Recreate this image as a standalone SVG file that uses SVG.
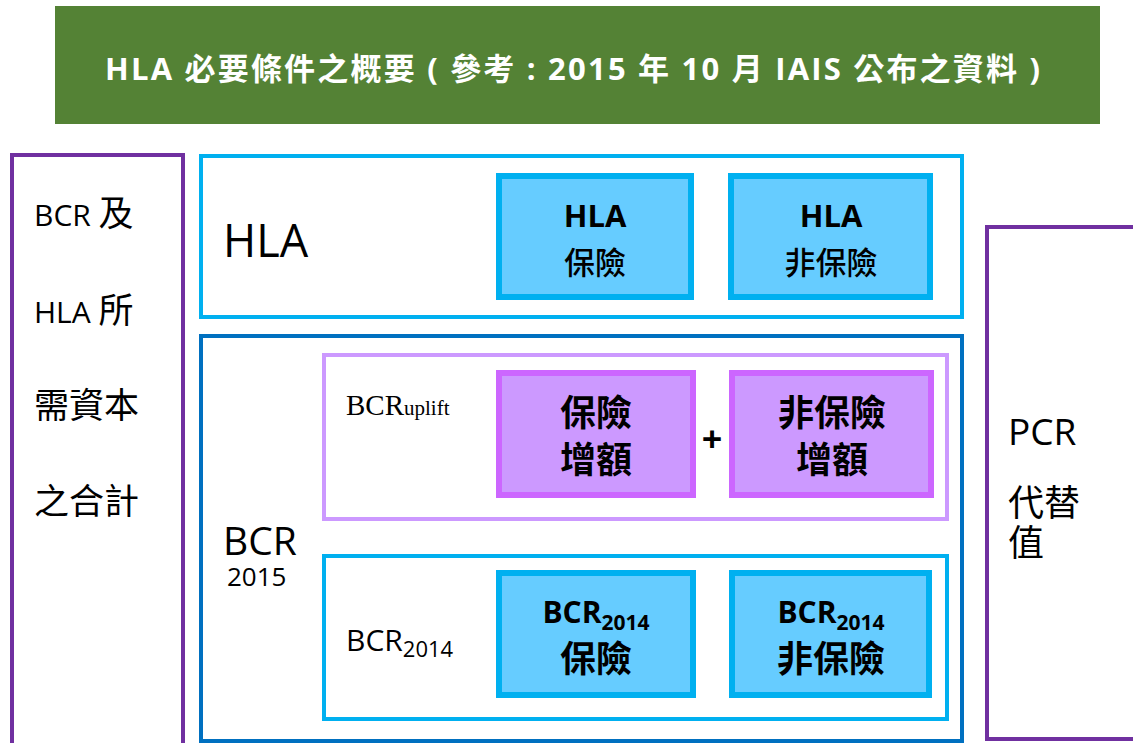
<svg xmlns="http://www.w3.org/2000/svg" width="1133" height="743" viewBox="0 0 1133 743">
<style>
.t{font-family:"Open Sans","Noto Sans CJK TC",sans-serif;fill:#000}
.b{font-weight:bold}
.c{font-family:"Noto Sans CJK TC",sans-serif}
.frame{fill:#fff;stroke-width:4}
.blue{fill:#66CCFF;stroke:#00B0F0;stroke-width:6}
.purp{fill:#CC99FF;stroke:#CC66FF;stroke-width:6}
</style>
<rect x="0" y="0" width="1133" height="743" fill="#fff"/>
<g id="title">
<rect x="55" y="6" width="1045" height="118" fill="#548235"/>
<text class="t b" x="105" y="80" font-size="31" style="fill:#fff" textLength="935" lengthAdjust="spacing">HLA 必要條件之概要 ( 參考 : 2015 年 10 月 IAIS 公布之資料 )</text>
</g>
<g id="left">
<rect class="frame" x="12" y="155" width="171" height="600" stroke="#7030A0"/>
<text class="t" x="34" y="226" font-size="30">BCR <tspan class="c" font-size="35">及</tspan></text>
<text class="t" x="34" y="323" font-size="30">HLA <tspan class="c" font-size="35">所</tspan></text>
<text class="t c" x="34" y="418" font-size="35">需資本</text>
<text class="t c" x="34" y="514" font-size="35">之合計</text>
</g>
<g id="hla">
<rect class="frame" x="201" y="156" width="761" height="161" stroke="#00B0F0"/>
<text class="t" x="223" y="257" font-size="45">HLA</text>
</g>
<g id="hla-ins">
<rect class="blue" x="499" y="176" width="192" height="121"/>
<text class="t b" x="595" y="227" font-size="31" text-anchor="middle">HLA</text>
<text class="t c" x="595" y="274" font-size="31" text-anchor="middle" font-weight="500">保險</text>
</g>
<g id="hla-non">
<rect class="blue" x="731" y="176" width="199" height="121"/>
<text class="t b" x="831" y="227" font-size="31" text-anchor="middle">HLA</text>
<text class="t c" x="831" y="274" font-size="31" text-anchor="middle" font-weight="500">非保險</text>
</g>
<g id="bcr">
<rect class="frame" x="201" y="336" width="761" height="405" stroke="#0070C0"/>
<text class="t" x="223" y="555" font-size="39">BCR</text>
<text class="t" x="227" y="586" font-size="26">2015</text>
</g>
<g id="uplift">
<rect class="frame" x="324" y="355" width="623" height="164" stroke="#CC99FF"/>
<text x="346" y="415" font-family="Liberation Serif,serif" font-size="29">BCR<tspan font-size="21">uplift</tspan></text>
</g>
<g id="uplift-ins">
<rect class="purp" x="499" y="373" width="194" height="122"/>
<text class="t b c" x="596" y="426" font-size="36" text-anchor="middle">保險</text>
<text class="t b c" x="596" y="473" font-size="36" text-anchor="middle">增額</text>
</g>
<g id="plus"><text class="t b" x="712" y="452" font-size="36" text-anchor="middle">+</text></g>
<g id="uplift-non">
<rect class="purp" x="732" y="373" width="199" height="122"/>
<text class="t b c" x="832" y="426" font-size="36" text-anchor="middle">非保險</text>
<text class="t b c" x="832" y="473" font-size="36" text-anchor="middle">增額</text>
</g>
<g id="bcr2014">
<rect class="frame" x="324" y="556" width="623" height="163" stroke="#00B0F0"/>
<text class="t" x="346" y="651" font-size="30">BCR<tspan font-size="22" dy="6">2014</tspan></text>
</g>
<g id="bcr2014-ins">
<rect class="blue" x="499" y="573" width="194" height="122"/>
<text class="t b" x="596" y="623" font-size="30" text-anchor="middle">BCR<tspan font-size="21" dy="7">2014</tspan></text>
<text class="t b c" x="596" y="672" font-size="36" text-anchor="middle">保險</text>
</g>
<g id="bcr2014-non">
<rect class="blue" x="732" y="573" width="197" height="122"/>
<text class="t b" x="831" y="623" font-size="30" text-anchor="middle">BCR<tspan font-size="21" dy="7">2014</tspan></text>
<text class="t b c" x="831" y="672" font-size="36" text-anchor="middle">非保險</text>
</g>
<g id="pcr">
<rect class="frame" x="987" y="227" width="200" height="512" stroke="#7030A0"/>
<text class="t" x="1008" y="445" font-size="37">PCR</text>
<text class="t c" x="1008" y="516" font-size="36">代替</text>
<text class="t c" x="1008" y="556" font-size="36">值</text>
</g>
<g id="connectors"/>
</svg>
